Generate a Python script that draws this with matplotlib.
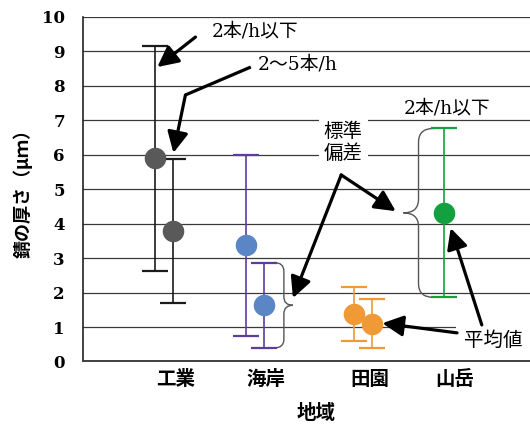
import matplotlib
matplotlib.use("Agg")
import matplotlib.pyplot as plt
from matplotlib.path import Path
from matplotlib.patches import PathPatch

# Rust thickness (μm) by region: mean and standard deviation
regions = ["工業", "海岸", "田園", "山岳"]
mean_low = [5.89, 3.37, 1.37, 4.31]   # 2本/h以下
sd_low = [3.27, 2.63, 0.78, 2.45]
mean_mid = [3.79, 1.63, 1.10]          # 2〜5本/h
sd_mid = [2.08, 1.24, 0.72]
yticks = list(range(0, 11))

# Layout: horizontal placement of each region's points and labels
group_x = [0.0, 1.0, 2.2, 3.09]
label_x = [0.13, 1.12, 2.27, 3.21]
pair_offset = 0.1

marker_colors = ["#595959", "#5A86C5", "#F09A36", "#13A03F"]
error_colors = ["#1a1a1a", "#5C3D9B", "#F09A36", "#13A03F"]

JP = "Noto Sans CJK JP"
MIX = ["DejaVu Serif", JP]

fig = plt.figure(figsize=(5.30, 4.28), dpi=100)
ax = fig.add_axes([0.1566, 0.1554, 0.8434, 0.8056])
ax.set_xlim(-0.9, 4.044)
ax.set_ylim(0, 10)

for y in yticks[1:]:
    ax.axhline(y, color="#3a3a3a", lw=0.9, zorder=1)

for s in ("top", "right"):
    ax.spines[s].set_visible(False)
ax.spines["left"].set_color("#222222")
ax.spines["left"].set_linewidth(1.2)
ax.spines["bottom"].set_color("#404040")
ax.spines["bottom"].set_linewidth(1.4)

ax.set_yticks(yticks)
ax.set_yticklabels([str(v) for v in yticks], family="DejaVu Serif",
                   fontweight="bold", fontsize=12)
ax.tick_params(axis="y", length=0, pad=13)
ax.set_xticks(label_x)
ax.set_xticklabels(regions, family=JP, fontweight="bold", fontsize=14)
ax.tick_params(axis="x", length=0, pad=6)

# error bars with mean markers
for i in range(len(regions)):
    has_pair = i < len(mean_mid)
    xs = [group_x[i] - pair_offset] if has_pair else [group_x[i]]
    ms = [mean_low[i]]
    sds = [sd_low[i]]
    if has_pair:
        xs.append(group_x[i] + pair_offset)
        ms.append(mean_mid[i])
        sds.append(sd_mid[i])
    for x, m, sd in zip(xs, ms, sds):
        ax.errorbar(x, m, yerr=sd, fmt="o", ms=14.5, mfc=marker_colors[i],
                    mec=marker_colors[i], ecolor=error_colors[i], elinewidth=1.2,
                    capsize=9.5, capthick=1.6, zorder=3)


def brace(x_edge, x_line, x_tip, y_top, y_mid, y_bot, r):
    verts = [(x_edge, y_top), (x_line, y_top), (x_line, y_top - r),
             (x_line, y_mid + r), (x_line, y_mid), (x_tip, y_mid),
             (x_line, y_mid), (x_line, y_mid - r),
             (x_line, y_bot + r), (x_line, y_bot), (x_edge, y_bot)]
    codes = [Path.MOVETO, Path.CURVE3, Path.CURVE3, Path.LINETO,
             Path.CURVE3, Path.CURVE3, Path.CURVE3, Path.CURVE3,
             Path.LINETO, Path.CURVE3, Path.CURVE3]
    ax.add_patch(PathPatch(Path(verts, codes), fill=False, ec="#555555",
                           lw=1.0, zorder=2))


# brace beside the 海岸 2〜5本/h spread
brace(1.211, 1.322, 1.422, mean_mid[1] + sd_mid[1], mean_mid[1],
      mean_mid[1] - sd_mid[1], 0.25)
# brace beside the 山岳 spread
brace(2.978, 2.811, 2.644, mean_low[3] + sd_low[3], mean_low[3],
      mean_low[3] - sd_low[3], 0.4)

arrow = dict(arrowstyle="-|>,head_length=0.7,head_width=0.35", lw=2.3,
             color="black", shrinkA=0, shrinkB=0, mutation_scale=18)

ax.text(1.0, 9.56, "2本/h以下", family=MIX, fontsize=13.5, ha="center",
        va="center", zorder=5)
ax.annotate("", xy=(-0.078, 8.54), xytext=(0.344, 9.41), arrowprops=arrow,
            zorder=5)

ax.text(1.478, 8.60, "2〜5本/h", family=MIX, fontsize=13.5, ha="center",
        va="center", zorder=5)
ax.plot([0.956, 0.233], [8.54, 7.73], color="black", lw=2.3,
        solid_capstyle="butt", zorder=5)
ax.annotate("", xy=(0.1, 6.05), xytext=(0.233, 7.73), arrowprops=arrow,
            zorder=5)

ax.text(3.122, 7.35, "2本/h以下", family=MIX, fontsize=13.5, ha="center",
        va="center", zorder=5)

ax.text(1.978, 6.36, "標準\n偏差", family=JP, fontsize=14, ha="center",
        va="center", linespacing=1.05, zorder=5,
        bbox=dict(boxstyle="square,pad=0.25", fc="white", ec="none"))
ax.annotate("", xy=(1.422, 1.84), xytext=(1.956, 5.41), arrowprops=arrow,
            zorder=5)
ax.annotate("", xy=(2.559, 4.36), xytext=(1.956, 5.41), arrowprops=arrow,
            zorder=5)

ax.text(3.633, 0.605, "平均値", family=JP, fontsize=14, ha="center",
        va="center", zorder=4,
        bbox=dict(boxstyle="square,pad=0.4", fc="white", ec="none"))
ax.annotate("", xy=(2.411, 1.11), xytext=(3.237, 0.83), arrowprops=arrow,
            zorder=5)
ax.annotate("", xy=(3.167, 3.87), xytext=(3.511, 1.06), arrowprops=arrow,
            zorder=5)

fig.text(0.596, 0.035, "地域", family=JP, fontweight="bold", fontsize=14,
         ha="center", va="center")
fig.text(0.0434, 0.558, "錆の厚さ（μｍ）", family=JP, fontweight="bold",
         fontsize=13, ha="center", va="center", rotation=90)

fig.savefig("out.png", dpi=100)
